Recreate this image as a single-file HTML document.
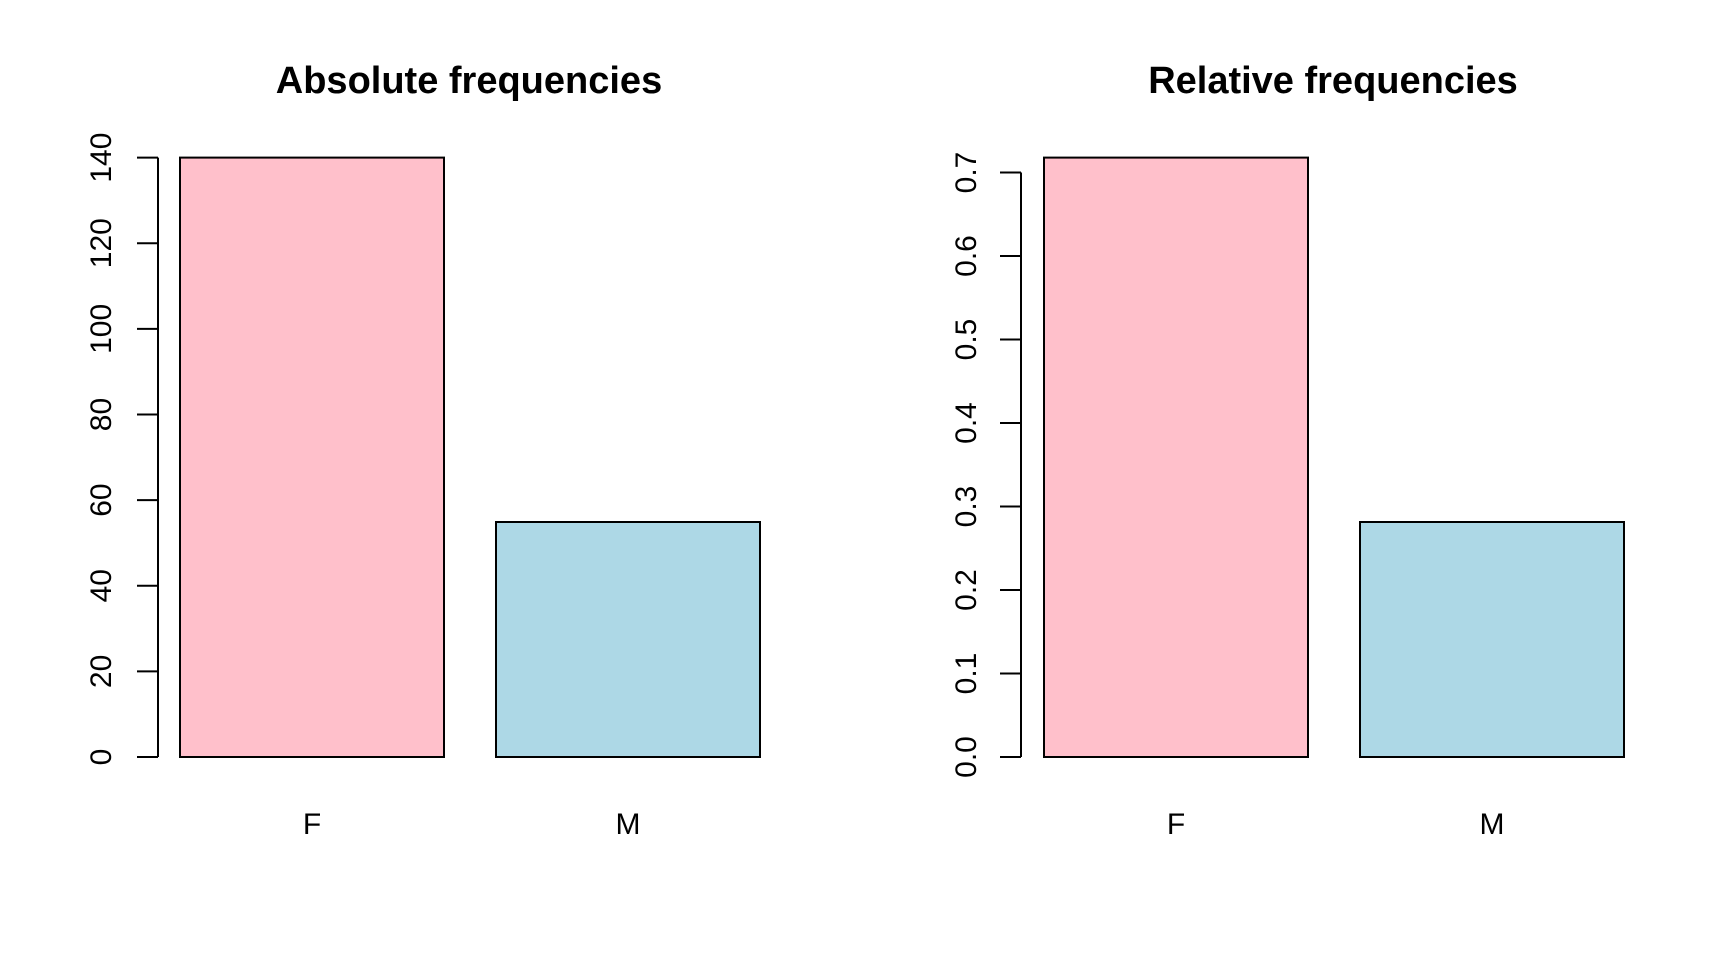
<!DOCTYPE html>
<html><head><style>body{margin:0;background:#fff}svg{display:block}text{font-family:"Liberation Sans",Arial,sans-serif;fill:#000}</style></head>
<body>
<svg width="1728" height="960" viewBox="0 0 1728 960" xmlns="http://www.w3.org/2000/svg">
<rect width="1728" height="960" fill="#fff"/>
<text x="469" y="93" font-size="38" font-weight="bold" text-anchor="middle">Absolute frequencies</text>
<text x="1333" y="93" font-size="38" font-weight="bold" text-anchor="middle">Relative frequencies</text>
<g stroke="#000" stroke-width="2" fill="none">
<rect x="180" y="157.6" width="264" height="599.4" fill="#ffc0cb"/>
<rect x="496" y="522" width="264" height="235" fill="#add8e6"/>
<rect x="1044" y="157.6" width="264" height="599.4" fill="#ffc0cb"/>
<rect x="1360" y="522" width="264" height="235" fill="#add8e6"/>
<line x1="158" y1="157.6" x2="158" y2="757"/>
<line x1="1021" y1="172.5" x2="1021" y2="757"/>
<path d="M137 757H158M137 671.4H158M137 585.7H158M137 500.1H158M137 414.5H158M137 328.9H158M137 243.2H158M137 157.6H158"/>
<path d="M1000 757H1021M1000 673.5H1021M1000 590H1021M1000 506.5H1021M1000 423H1021M1000 339.5H1021M1000 256H1021M1000 172.5H1021"/>
</g>
<g font-size="30" text-anchor="middle">
<text transform="translate(111,757) rotate(-90)">0</text>
<text transform="translate(111,671.4) rotate(-90)">20</text>
<text transform="translate(111,585.7) rotate(-90)">40</text>
<text transform="translate(111,500.1) rotate(-90)">60</text>
<text transform="translate(111,414.5) rotate(-90)">80</text>
<text transform="translate(111,328.9) rotate(-90)">100</text>
<text transform="translate(111,243.2) rotate(-90)">120</text>
<text transform="translate(111,157.6) rotate(-90)">140</text>
<text transform="translate(976,757) rotate(-90)">0.0</text>
<text transform="translate(976,673.5) rotate(-90)">0.1</text>
<text transform="translate(976,590) rotate(-90)">0.2</text>
<text transform="translate(976,506.5) rotate(-90)">0.3</text>
<text transform="translate(976,423) rotate(-90)">0.4</text>
<text transform="translate(976,339.5) rotate(-90)">0.5</text>
<text transform="translate(976,256) rotate(-90)">0.6</text>
<text transform="translate(976,172.5) rotate(-90)">0.7</text>
<text x="312" y="834">F</text>
<text x="628" y="834">M</text>
<text x="1176" y="834">F</text>
<text x="1492" y="834">M</text>
</g>
</svg>
</body></html>
